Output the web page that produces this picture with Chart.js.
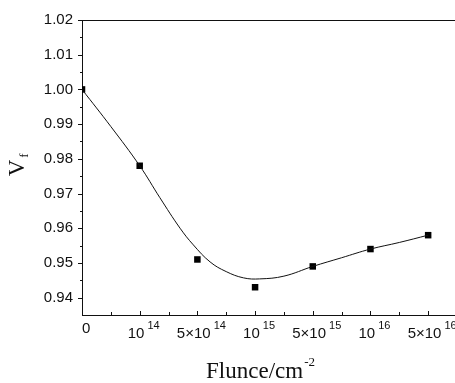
<!DOCTYPE html>
<html>
<head>
<meta charset="utf-8">
<style>
  html, body { margin: 0; padding: 0; background: #fff; overflow: hidden; }
  #wrap { width: 490px; height: 383px; }
</style>
<script src="https://cdn.jsdelivr.net/npm/chart.js@4.4.1/dist/chart.umd.min.js"></script>
</head>
<body>
<div id="wrap"><canvas id="vfChart" width="490" height="383"></canvas></div>
<script>
// fluence categories (evenly spaced on the axis)
const xTickValues = [0, 1, 2, 3, 4, 5, 6];
const xTickLabels = ['0', '10^14', '5×10^14', '10^15', '5×10^15', '10^16', '5×10^16'];

// measured V_f
const measuredVf = [1.000, 0.978, 0.951, 0.943, 0.949, 0.954, 0.958];

// fitted curve
const curveX = [0, 0.5, 1, 1.35, 1.7, 1.93, 2.22, 2.5, 2.8, 3.08, 3.5, 4, 4.5, 5, 5.5, 6];
const curveVf = [1.000, 0.9893, 0.978, 0.9688, 0.9600, 0.9552, 0.9503, 0.9475, 0.9457, 0.9454, 0.9462, 0.949, 0.9515, 0.954, 0.9559, 0.958];

const yTicks = [0.94, 0.95, 0.96, 0.97, 0.98, 0.99, 1.00, 1.01, 1.02];

const INK = '#111';
const SANS = '"Liberation Sans", Arial, sans-serif';
const SERIF = '"Liberation Serif", "Times New Roman", serif';

// ticks, top frame line, tick labels with superscripts, axis titles
const decorPlugin = {
  id: 'decor',
  afterDraw(chart) {
    const c = chart.ctx;
    const a = chart.chartArea;
    const xs = chart.scales.x;
    const ys = chart.scales.y;
    c.save();
    c.strokeStyle = INK;
    c.lineWidth = 1;

    // top frame
    c.beginPath();
    c.moveTo(a.left, a.top + 0.5);
    c.lineTo(chart.width, a.top + 0.5);
    c.stroke();

    // x ticks (inward), majors + minors
    c.beginPath();
    for (let v = 0; v <= 6.5; v += 0.5) {
      const px = Math.round(xs.getPixelForValue(v)) + 0.5;
      const len = Number.isInteger(v) ? 4 : 3;
      c.moveTo(px, a.bottom);
      c.lineTo(px, a.bottom - len);
    }
    // y ticks (outward)
    for (let v = 0.935; v <= 1.0201; v += 0.005) {
      const py = Math.round(ys.getPixelForValue(v)) + 0.5;
      const major = Math.abs(v * 100 - Math.round(v * 100)) < 1e-6;
      if (!major && v < 0.9375) continue;
      c.moveTo(a.left, py);
      c.lineTo(a.left - (major ? 4 : 2), py);
    }
    c.stroke();

    // x tick labels (sit a little right of their tick, as in the original)
    c.fillStyle = INK;
    c.textBaseline = 'alphabetic';
    c.textAlign = 'left';
    xTickValues.forEach((v, i) => {
      const parts = xTickLabels[i].split('^');
      const px = xs.getPixelForValue(v);
      c.font = '15px ' + SANS;
      const wb = c.measureText(parts[0]).width;
      let we = 0;
      if (parts[1]) {
        c.font = '11px ' + SANS;
        we = c.measureText(parts[1]).width + 3;
      }
      let x0 = px - (wb + we) / 2 + 4;
      if (i === 0) x0 = px;
      c.font = '15px ' + SANS;
      c.fillText(parts[0], x0, parts[1] ? 338 : 333);
      if (parts[1]) {
        c.font = '11px ' + SANS;
        c.fillText(parts[1], x0 + wb + 3, 329);
      }
    });

    // x title
    c.font = '23px ' + SERIF;
    const t1 = 'Flunce/cm';
    const w1 = c.measureText(t1).width;
    c.font = '13px ' + SERIF;
    const t2 = '-2';
    const w2 = c.measureText(t2).width;
    const tx = 260 - (w1 + w2) / 2;
    c.font = '23px ' + SERIF;
    c.fillText(t1, tx, 378);
    c.font = '13px ' + SERIF;
    c.fillText(t2, tx + w1 + 1, 366);

    // y title: V with subscript f, rotated
    c.translate(24, 165);
    c.rotate(-Math.PI / 2);
    c.font = '23px ' + SERIF;
    const wv = c.measureText('V').width;
    c.fillText('V', -wv / 2 - 3, 0);
    c.font = '13px ' + SERIF;
    c.fillText('f', wv / 2 - 1, 4);
    c.restore();
  }
};

const ctx = document.getElementById('vfChart');

new Chart(ctx, {
  type: 'scatter',
  data: {
    datasets: [
      {
        label: 'fit',
        data: curveX.map((x, i) => ({ x: x, y: curveVf[i] })),
        showLine: true,
        borderColor: INK,
        borderWidth: 1,
        pointRadius: 0,
        tension: 0.4,
        fill: false
      },
      {
        label: 'Vf',
        data: xTickValues.map((x, i) => ({ x: x, y: measuredVf[i] })),
        showLine: false,
        pointStyle: 'rect',
        pointRadius: 4.6,
        backgroundColor: '#000',
        borderColor: '#000',
        borderWidth: 0
      }
    ]
  },
  options: {
    responsive: false,
    animation: false,
    layout: { padding: { left: 0, top: 20, right: 33, bottom: 0 } },
    plugins: {
      legend: { display: false },
      tooltip: { enabled: false }
    },
    scales: {
      x: {
        type: 'linear',
        min: 0,
        max: 6.5,
        grid: { display: false, drawTicks: false },
        border: { display: true, color: INK, width: 1 },
        ticks: { display: false },
        afterFit(scale) { scale.height = 68; }
      },
      y: {
        type: 'linear',
        min: 0.935,
        max: 1.02,
        grid: { display: false, drawTicks: false },
        border: { display: true, color: INK, width: 1 },
        afterBuildTicks(scale) {
          scale.ticks = yTicks.map(v => ({ value: v }));
        },
        ticks: {
          color: INK,
          padding: 9,
          font: { family: SANS, size: 15 },
          callback: v => v.toFixed(2)
        },
        afterFit(scale) { scale.width = 82; }
      }
    }
  },
  plugins: [decorPlugin]
});
</script>
</body>
</html>
